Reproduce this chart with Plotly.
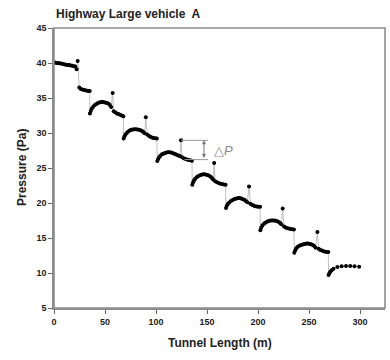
import plotly.graph_objects as go

# ---- data ----
seg1_x = [0, 1.5, 3, 4.5, 6, 7.5, 9, 10.5, 12, 13.5, 15, 16.5, 18, 19.5, 20.8, 22.2, 23.2]
seg1_y = [40.1, 40.05, 40.0, 39.95, 39.95, 39.9, 39.85, 39.8, 39.75, 39.7, 39.7, 39.65, 39.6, 39.55, 39.5, 39.1, 40.3]
shelf1_x = [24.8, 26.3, 27.8, 29.3, 30.8, 32.3, 33.8, 35.0]
shelf1_y = [36.5, 36.3, 36.2, 36.15, 36.1, 36.05, 36.0, 36.0]

seg2_x = [35.2, 36.0, 37.0, 38.2, 39.7, 41.2, 42.7, 44.2, 45.7, 47.2, 48.7, 50.2, 51.7, 53.2, 54.7, 56.0, 57.5]
seg2_y = [32.8, 33.15, 33.45, 33.7, 33.95, 34.1, 34.25, 34.35, 34.4, 34.45, 34.4, 34.35, 34.3, 34.2, 34.0, 33.7, 35.7]
shelf2_x = [58.5, 60.0, 61.6, 63.2, 64.8, 66.4, 68.0]
shelf2_y = [33.1, 32.95, 32.8, 32.7, 32.6, 32.5, 32.4]

seg3_x = [68.3, 69.1, 70.1, 71.3, 72.8, 74.3, 75.8, 77.3, 78.8, 80.3, 81.8, 83.3, 84.8, 86.3, 87.6, 88.8, 90.0]
seg3_y = [29.2, 29.55, 29.8, 30.0, 30.2, 30.35, 30.45, 30.5, 30.55, 30.55, 30.5, 30.45, 30.4, 30.3, 30.15, 29.95, 32.25]
shelf3_x = [91.3, 92.8, 94.4, 96.0, 97.6, 99.2, 100.8]
shelf3_y = [29.8, 29.6, 29.45, 29.35, 29.3, 29.25, 29.2]

seg4_x = [101.3, 102.1, 103.1, 104.3, 105.8, 107.3, 108.8, 110.3, 111.8, 113.3, 114.8, 116.3, 117.8, 119.3, 120.8, 122.3, 123.4, 124.5]
seg4_y = [26.0, 26.3, 26.55, 26.75, 26.95, 27.05, 27.15, 27.2, 27.25, 27.25, 27.2, 27.15, 27.05, 26.95, 26.85, 26.75, 26.7, 28.95]
shelf4_x = [125.6, 127.2, 128.8, 130.4, 132.0, 133.6, 135.2]
shelf4_y = [26.55, 26.4, 26.3, 26.2, 26.15, 26.1, 26.05]

seg5_x = [135.6, 136.4, 137.4, 138.6, 140.1, 141.6, 143.1, 144.6, 146.1, 147.6, 149.1, 150.6, 152.1, 153.6, 155.0, 156.0, 157.0]
seg5_y = [22.6, 22.95, 23.25, 23.5, 23.7, 23.85, 23.95, 24.05, 24.1, 24.1, 24.05, 24.0, 23.9, 23.75, 23.55, 23.35, 25.7]
shelf5_x = [158.0, 159.7, 161.4, 163.1, 164.8, 166.5, 168.2]
shelf5_y = [23.1, 22.95, 22.85, 22.75, 22.7, 22.65, 22.6]

seg6_x = [168.6, 169.4, 170.4, 171.6, 173.1, 174.6, 176.1, 177.6, 179.1, 180.6, 182.1, 183.6, 185.1, 186.6, 188.0, 189.5, 191.2]
seg6_y = [19.3, 19.6, 19.85, 20.05, 20.25, 20.4, 20.5, 20.6, 20.65, 20.7, 20.7, 20.65, 20.55, 20.45, 20.3, 20.1, 22.35]
shelf6_x = [192.5, 194.0, 195.6, 197.2, 198.8, 200.4, 202.0]
shelf6_y = [19.9, 19.75, 19.65, 19.55, 19.5, 19.45, 19.45]

seg7_x = [202.3, 203.1, 204.1, 205.3, 206.8, 208.3, 209.8, 211.3, 212.8, 214.3, 215.8, 217.3, 218.8, 220.3, 221.6, 222.8, 224.2]
seg7_y = [16.1, 16.45, 16.75, 16.95, 17.15, 17.3, 17.4, 17.45, 17.5, 17.5, 17.5, 17.45, 17.4, 17.3, 17.15, 16.95, 19.2]
shelf7_x = [225.5, 227.1, 228.7, 230.3, 231.9, 233.5, 235.2]
shelf7_y = [16.65, 16.5, 16.4, 16.35, 16.3, 16.25, 16.2]

seg8_x = [235.6, 236.4, 237.4, 238.6, 240.1, 241.6, 243.1, 244.6, 246.1, 247.6, 249.1, 250.6, 252.1, 253.6, 255.0, 256.5, 258.2]
seg8_y = [12.9, 13.2, 13.5, 13.7, 13.85, 13.95, 14.05, 14.1, 14.15, 14.2, 14.2, 14.15, 14.1, 14.0, 13.85, 13.6, 15.85]
shelf8_x = [259.5, 261.1, 262.7, 264.3, 265.9, 267.5, 268.9]
shelf8_y = [13.45, 13.3, 13.2, 13.1, 13.05, 13.0, 13.0]

tail_x = [269.2, 270.0, 271.0, 272.2, 274.0, 277.8, 282.0, 286.3, 290.4, 294.6, 299.2]
tail_y = [9.7, 9.95, 10.2, 10.4, 10.6, 10.85, 10.95, 11.0, 11.0, 10.95, 10.9]

x_ticks = [0, 50, 100, 150, 200, 250, 300]
y_ticks = [5, 10, 15, 20, 25, 30, 35, 40, 45]

# Delta-P annotation anchors (from segment 4 spike and shelf)
dp_top_y = seg4_y[-1]
dp_top_x0 = seg4_x[-1]
dp_bot_y = 26.2
dp_bot_x0 = 128.0
dp_x1 = 151.0
dp_arrow_x = 147.0

xs = (seg1_x + shelf1_x + seg2_x + shelf2_x + seg3_x + shelf3_x + seg4_x + shelf4_x +
      seg5_x + shelf5_x + seg6_x + shelf6_x + seg7_x + shelf7_x + seg8_x + shelf8_x + tail_x)
ys = (seg1_y + shelf1_y + seg2_y + shelf2_y + seg3_y + shelf3_y + seg4_y + shelf4_y +
      seg5_y + shelf5_y + seg6_y + shelf6_y + seg7_y + shelf7_y + seg8_y + shelf8_y + tail_y)

FONT = "Liberation Sans, Arial, sans-serif"

fig = go.Figure()
fig.add_trace(go.Scatter(
    x=xs, y=ys, mode="lines+markers",
    line=dict(color="#b0b0b0", width=0.8),
    marker=dict(color="black", size=4, line=dict(width=0)),
    showlegend=False, hoverinfo="skip"))

# delta P bracket lines
fig.add_trace(go.Scatter(x=[dp_top_x0, dp_x1], y=[dp_top_y, dp_top_y], mode="lines",
                         line=dict(color="#999999", width=1), showlegend=False, hoverinfo="skip"))
fig.add_trace(go.Scatter(x=[dp_bot_x0, dp_x1], y=[dp_bot_y, dp_bot_y], mode="lines",
                         line=dict(color="#999999", width=1), showlegend=False, hoverinfo="skip"))

fig.add_annotation(x=dp_arrow_x, y=dp_top_y, ax=dp_arrow_x, ay=dp_bot_y,
                   xref="x", yref="y", axref="x", ayref="y", text="",
                   showarrow=True, arrowside="end+start", arrowhead=2, arrowsize=0.8,
                   arrowwidth=1, arrowcolor="#777777")
fig.add_annotation(x=dp_x1 + 4, y=(dp_top_y + dp_bot_y) / 2 - 0.1, xref="x", yref="y",
                   text="△<i>P</i>", showarrow=False, xanchor="left", yanchor="middle",
                   font=dict(family=FONT, size=13, color="#888888"))

# border (top/right)
fig.add_shape(type="rect", xref="paper", yref="paper", x0=0, y0=0, x1=1, y1=1,
              line=dict(color="#8c8c8c", width=1.6), layer="above")

fig.update_layout(
    width=390, height=360,
    margin=dict(l=54, r=5, t=28, b=52),
    paper_bgcolor="white", plot_bgcolor="white",
    xaxis=dict(range=[0, 324.5], tickvals=x_ticks, ticks="outside", ticklen=4,
               tickcolor="#666666", tickwidth=1, showline=True, linecolor="#8c8c8c",
               linewidth=1.6, showgrid=False, zeroline=False,
               tickfont=dict(family=FONT, size=9, color="#222222", weight="bold")),
    yaxis=dict(range=[5, 45], tickvals=y_ticks, ticks="outside", ticklen=4,
               tickcolor="#666666", tickwidth=1, showline=True, linecolor="#8c8c8c",
               linewidth=1.6, showgrid=False, zeroline=False,
               tickfont=dict(family=FONT, size=9, color="#222222", weight="bold")),
)

fig.add_annotation(text="<b>Highway Large vehicle  A</b>", xref="paper", yref="paper",
                   x=0, y=1, yshift=14, xanchor="left", yanchor="middle", showarrow=False,
                   font=dict(family=FONT, size=12, color="#222222"))
fig.add_annotation(text="<b>Tunnel Length (m)</b>", xref="paper", yref="paper",
                   x=0.5, y=0, yshift=-35, xanchor="center", yanchor="middle", showarrow=False,
                   font=dict(family=FONT, size=12, color="#222222"))
fig.add_annotation(text="<b>Pressure (Pa)</b>", xref="paper", yref="paper",
                   x=0, xshift=-32, y=0.5, xanchor="center", yanchor="middle", showarrow=False,
                   textangle=-90, font=dict(family=FONT, size=12, color="#222222"))

fig.write_html("out.html")
